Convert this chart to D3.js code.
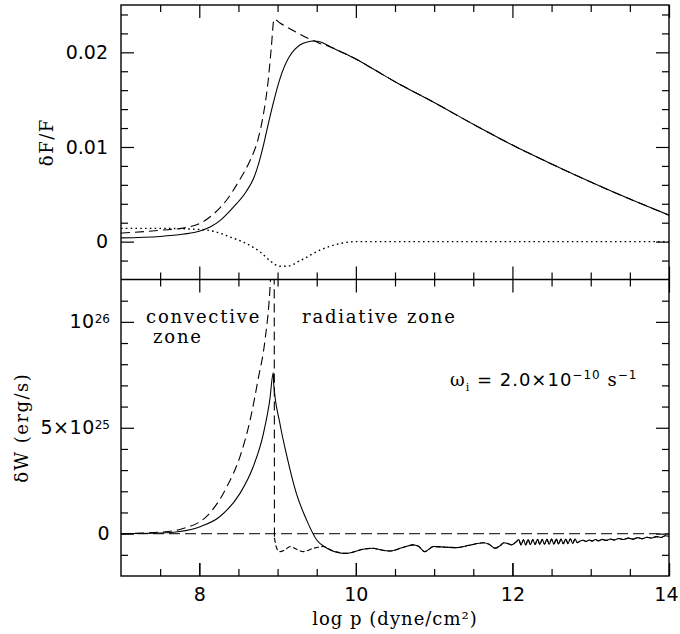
<!DOCTYPE html>
<html>
<head>
<meta charset="utf-8">
<script src="https://cdn.jsdelivr.net/npm/d3@7"></script>
<style>
body { margin: 0; background: #fff; }
svg { display: block; }
.tk text { font-family: "DejaVu Sans"; font-size: 19px; fill: #000; }
.tk line { stroke: #000; stroke-width: 1.2; }
.tk path { display: none; }
.lab { font-family: "DejaVu Serif"; font-size: 18px; letter-spacing: 1.5px; fill: #000; }
</style>
</head>
<body>
<script>
// upper panel: dF/F against log p
var topSolidP = [7.0, 7.5, 7.8, 8.0, 8.15, 8.26, 8.43, 8.6, 8.7, 8.76, 8.82, 8.88, 8.95, 9.03, 9.14, 9.22, 9.29, 9.38, 9.46, 9.55, 9.67];
var topSolidF = [0.0004, 0.00055, 0.0008, 0.0011, 0.0016, 0.0022, 0.0036, 0.0053, 0.0068, 0.0083, 0.0102, 0.0124, 0.0148, 0.0172, 0.0194, 0.0203, 0.0208, 0.0211, 0.0212, 0.0211, 0.0206];
var topDashP = [7.0, 7.5, 7.84, 8.0, 8.18, 8.35, 8.52, 8.65, 8.75, 8.82, 8.88, 8.92, 8.955, 9.03, 9.2, 9.41, 9.5, 9.55, 9.6];
var topDashF = [0.0009, 0.0012, 0.0015, 0.0019, 0.0029, 0.0044, 0.0066, 0.0086, 0.0108, 0.0135, 0.0170, 0.0205, 0.0235, 0.0231, 0.0223, 0.0214, 0.0211, 0.0209, 0.0208];
// solid and dashed run together from here on
var topTailP = [9.67, 9.8, 10.0, 10.25, 10.5, 11.0, 11.5, 12.0, 12.5, 13.0, 13.5, 14.0];
var topTailF = [0.0206, 0.0201, 0.0193, 0.0181, 0.0169, 0.0147, 0.0124, 0.0102, 0.0082, 0.0063, 0.0045, 0.0028];
var topDotP = [7.0, 7.5, 7.97, 8.18, 8.39, 8.6, 8.78, 8.9, 9.03, 9.12, 9.29, 9.54, 9.8, 10.0, 14.0];
var topDotF = [0.0014, 0.0014, 0.0013, 0.0011, 0.0005, -0.0002, -0.0011, -0.0020, -0.0026, -0.0026, -0.0020, -0.0009, -0.0002, 0.0, 0.0];

// lower panel: dW in units of 1e25 erg/s
var botSolidP = [7.0, 7.5, 7.75, 8.01, 8.26, 8.52, 8.69, 8.82, 8.9, 8.945, 8.95, 9.03, 9.12, 9.24, 9.37, 9.5, 9.63, 9.75, 9.84];
var botSolidW = [0, 0.03, 0.1, 0.33, 0.8, 1.9, 3.17, 4.74, 6.3, 7.6, 7.1, 5.2, 3.64, 1.9, 0.65, -0.3, -0.69, -0.88, -0.93];
var botDashP = [7.0, 7.5, 7.75, 8.09, 8.35, 8.52, 8.65, 8.75, 8.84, 8.9, 8.93, 8.955, 8.96];
var botDashW = [0, 0.07, 0.2, 0.8, 2.2, 3.64, 5.37, 7.26, 9.15, 11.4, 13.5, 16, -0.2];
var botDropP = [8.96, 8.99, 9.03, 9.1, 9.16, 9.25, 9.33, 9.45, 9.58, 9.7, 9.84];
var botDropW = [-0.2, -0.7, -0.85, -0.75, -0.61, -0.75, -0.85, -0.7, -0.61, -0.8, -0.93];
var botTailP = [9.84, 9.88, 10.09, 10.22, 10.3, 10.43, 10.6, 10.73, 10.8, 10.88, 10.99, 11.15, 11.29, 11.45, 11.63, 11.7, 11.78, 11.85, 11.89, 11.95, 11.99, 12.05,
    12.08, 12.11, 12.14, 12.17, 12.2, 12.23, 12.26, 12.29, 12.32, 12.35, 12.38, 12.41, 12.44, 12.47, 12.5, 12.53, 12.56, 12.59, 12.62, 12.65, 12.68, 12.71, 12.74, 12.77, 12.8, 12.83, 12.86,
    12.9, 12.94, 12.98, 13.02, 13.06, 13.1, 13.15, 13.2, 13.25, 13.3, 13.36, 13.42, 13.48, 13.54, 13.6, 13.66, 13.72, 13.78, 13.84, 13.9, 13.95, 14.0];
var botTailW = [-0.93, -0.93, -0.74, -0.69, -0.75, -0.82, -0.65, -0.53, -0.6, -0.85, -0.61, -0.64, -0.66, -0.55, -0.43, -0.5, -0.69, -0.55, -0.43, -0.48, -0.53, -0.38,
    -0.28, -0.53, -0.29, -0.53, -0.28, -0.52, -0.28, -0.51, -0.27, -0.51, -0.27, -0.5, -0.26, -0.5, -0.26, -0.49, -0.25, -0.49, -0.25, -0.48, -0.25, -0.47, -0.24, -0.46, -0.26, -0.43, -0.36,
    -0.31, -0.37, -0.3, -0.35, -0.28, -0.34, -0.27, -0.32, -0.25, -0.3, -0.23, -0.28, -0.21, -0.26, -0.19, -0.24, -0.17, -0.21, -0.14, -0.18, -0.1, -0.12];

// ticks
var xMajor = [8, 10, 12, 14];
var xMinor = [7.5, 8.5, 9, 9.5, 10.5, 11, 11.5, 12.5, 13, 13.5];
var topMajor = [0, 0.01, 0.02];
var topLabels = ["0", "0.01", "0.02"];
var topMinor = [-0.002, 0.002, 0.004, 0.006, 0.008, 0.012, 0.014, 0.016, 0.018, 0.022, 0.024];
var botMajor = [0, 5, 10];
var botLabels = [["0", ""], ["5\u00d710", "25"], ["10", "26"]];
var botMinor = [-1, 1, 2, 3, 4, 6, 7, 8, 9, 11];

var W = 680, H = 634;
var L = 121, R = 669, T = 5, MID = 279.5, B = 576;

var svg = d3.select("body").append("svg").attr("width", W).attr("height", H);

var x = d3.scaleLinear().domain([7, 14]).range([L, R]);
var yTop = d3.scaleLinear().domain([-0.004, 0.025]).range([MID, T]);
var yBot = d3.scaleLinear().domain([-2, 12]).range([B, MID]);

function frame(y, y0, y1, major, minor, clipId) {
    // minor and major ticks on every side, pointing inward
    svg.append("g").attr("class", "tk").attr("transform", "translate(0," + y1 + ")")
        .call(d3.axisBottom(x).tickValues(xMinor).tickSize(-7).tickFormat(""));
    svg.append("g").attr("class", "tk").attr("transform", "translate(0," + y0 + ")")
        .call(d3.axisTop(x).tickValues(xMinor).tickSize(-7).tickFormat(""));
    svg.append("g").attr("class", "tk").attr("transform", "translate(0," + y1 + ")")
        .call(d3.axisBottom(x).tickValues(xMajor).tickSize(-13).tickFormat(""));
    svg.append("g").attr("class", "tk").attr("transform", "translate(0," + y0 + ")")
        .call(d3.axisTop(x).tickValues(xMajor).tickSize(-13).tickFormat(""));
    svg.append("g").attr("class", "tk").attr("transform", "translate(" + L + ",0)")
        .call(d3.axisLeft(y).tickValues(minor).tickSize(-7).tickFormat(""));
    svg.append("g").attr("class", "tk").attr("transform", "translate(" + R + ",0)")
        .call(d3.axisRight(y).tickValues(minor).tickSize(-7).tickFormat(""));
    svg.append("g").attr("class", "tk").attr("transform", "translate(" + R + ",0)")
        .call(d3.axisRight(y).tickValues(major).tickSize(-13).tickFormat(""));

    svg.append("clipPath").attr("id", clipId).append("rect")
        .attr("x", L).attr("y", y0).attr("width", R - L).attr("height", y1 - y0);
}

function curve(g, xs, ys, y, dash, width) {
    var pts = d3.zip(xs, ys);
    var p = g.append("path").datum(pts)
        .attr("fill", "none").attr("stroke", "#000").attr("stroke-width", width || 1.1)
        .attr("d", d3.line().x(function (d) { return x(d[0]); }).y(function (d) { return y(d[1]); }).curve(d3.curveMonotoneX));
    if (dash) p.attr("stroke-dasharray", dash);
    return p;
}

// upper panel
frame(yTop, T, MID, topMajor, topMinor, "clipTop");
svg.append("g").attr("class", "tk").attr("transform", "translate(" + L + ",0)")
    .call(d3.axisLeft(yTop).tickValues(topMajor).tickSize(-13).tickPadding(13)
        .tickFormat(function (d, i) { return topLabels[i]; }));

var gTop = svg.append("g").attr("clip-path", "url(#clipTop)");
curve(gTop, topDotP, topDotF, yTop, "1.6,3.2", 1.4);
curve(gTop, topDashP.concat(topTailP), topDashF.concat(topTailF), yTop, "9,5");
curve(gTop, topSolidP.concat(topTailP.slice(1)), topSolidF.concat(topTailF.slice(1)), yTop);

// lower panel
frame(yBot, MID, B, botMajor, botMinor, "clipBot");
var yAx = svg.append("g").attr("class", "tk").attr("transform", "translate(" + L + ",0)")
    .call(d3.axisLeft(yBot).tickValues(botMajor).tickSize(-13).tickFormat(""));
yAx.selectAll(".tick").each(function (d, i) {
    var t = d3.select(this).append("text").attr("x", -11).attr("dy", "0.32em")
        .attr("text-anchor", "end");
    t.append("tspan").style("letter-spacing", "0.5px").text(botLabels[i][0]);
    if (botLabels[i][1]) {
        t.append("tspan").attr("dy", "-0.45em").attr("font-size", "12px").text(botLabels[i][1]);
    }
});
var xAx = svg.append("g").attr("class", "tk").attr("transform", "translate(0," + B + ")")
    .call(d3.axisBottom(x).tickValues(xMajor).tickSize(-13).tickPadding(12).tickFormat(d3.format("d")));
// keep the last label inside the page
xAx.selectAll(".tick text").filter(function (d) { return d === 14; })
    .attr("text-anchor", "end").attr("x", 9);

var gBot = svg.append("g").attr("clip-path", "url(#clipBot)");
gBot.append("line").attr("x1", L).attr("x2", R).attr("y1", yBot(0)).attr("y2", yBot(0))
    .attr("stroke", "#333").attr("stroke-width", 1.1).attr("stroke-dasharray", "11,5");
curve(gBot, botDashP, botDashW, yBot, "9,5");
curve(gBot, botDropP, botDropW, yBot, "5,2.5");
curve(gBot, botTailP, botTailW, yBot, "5,2.5");
curve(gBot, botSolidP.concat(botTailP.slice(1)), botSolidW.concat(botTailW.slice(1)), yBot);

// frames
svg.append("rect").attr("x", L).attr("y", T).attr("width", R - L).attr("height", B - T)
    .attr("fill", "none").attr("stroke", "#000").attr("stroke-width", 1.4);
svg.append("line").attr("x1", L).attr("x2", R).attr("y1", MID).attr("y2", MID)
    .attr("stroke", "#000").attr("stroke-width", 1.4);

// titles and notes
svg.append("text").attr("class", "lab").attr("x", (L + R) / 2).attr("y", 625)
    .attr("text-anchor", "middle").style("letter-spacing", "1px").text("log p (dyne/cm\u00b2)");
svg.append("text").attr("class", "lab").attr("text-anchor", "middle")
    .attr("transform", "translate(53," + (T + MID) / 2 + ") rotate(-90)").text("\u03b4F/F");
svg.append("text").attr("class", "lab").attr("text-anchor", "middle")
    .attr("transform", "translate(28," + (MID + B) / 2 + ") rotate(-90)").text("\u03b4W (erg/s)");

svg.append("text").attr("class", "lab").attr("x", 146).attr("y", 323).style("letter-spacing", "1.8px").text("convective");
svg.append("text").attr("class", "lab").attr("x", 153).attr("y", 343).style("letter-spacing", "1.8px").text("zone");
svg.append("text").attr("class", "lab").attr("x", 302).attr("y", 323).style("letter-spacing", "1.8px").text("radiative zone");

var om = svg.append("text").attr("class", "lab").attr("x", 450).attr("y", 386).style("letter-spacing", "1px");
om.append("tspan").text("\u03c9");
om.append("tspan").attr("dy", 5).attr("font-size", "11px").text("i");
om.append("tspan").attr("dy", -5).attr("font-family", "DejaVu Sans").text(" =  2.0\u00d710");
om.append("tspan").attr("dy", -7).attr("font-size", "12px").attr("font-family", "DejaVu Sans").text("\u221210");
om.append("tspan").attr("dy", 7).text("  s");
om.append("tspan").attr("dy", -7).attr("font-size", "12px").attr("font-family", "DejaVu Sans").text("\u22121");
</script>
</body>
</html>
